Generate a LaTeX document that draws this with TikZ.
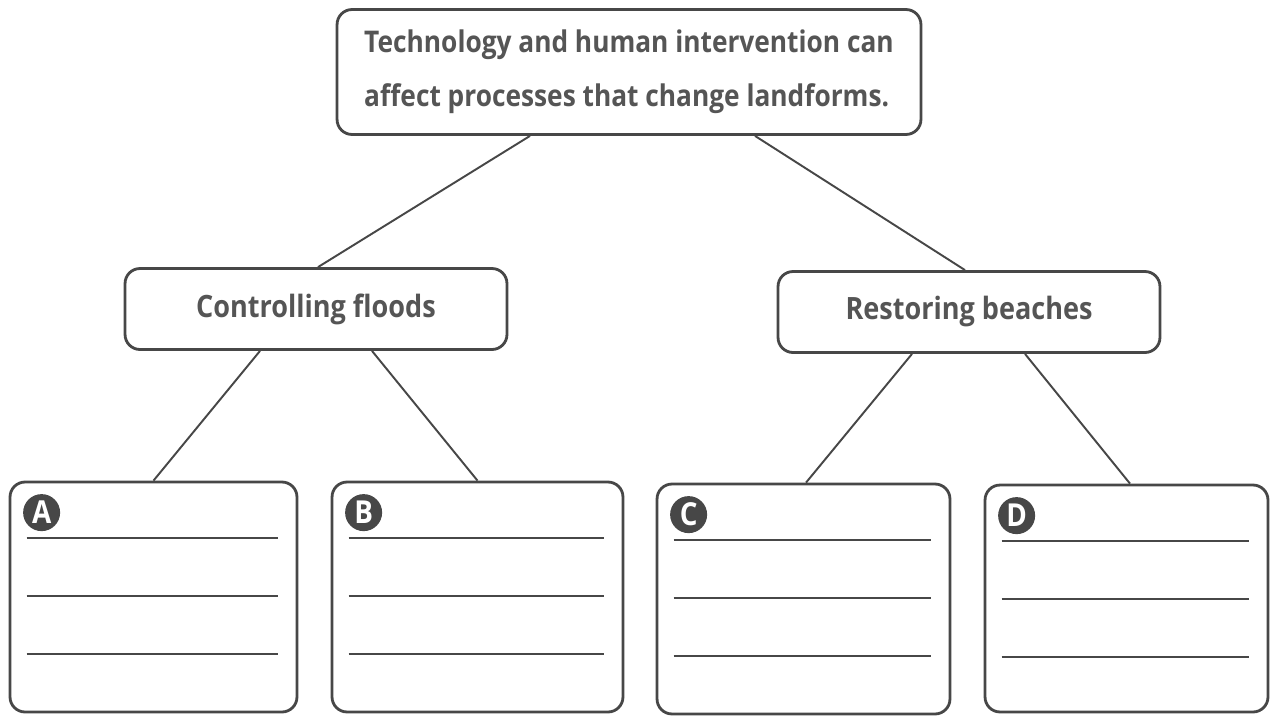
\documentclass[tikz,border=0pt]{standalone}
\usepackage{fontspec}
\setmainfont{Open Sans}[FakeStretch=0.88]
\usetikzlibrary{calc, positioning}
\definecolor{inkgray}{HTML}{474747}
\definecolor{textgray}{HTML}{555555}

\begin{document}
\begin{tikzpicture}[
    x=0.02cm, y=-0.02cm,
    box/.style={draw=inkgray, line width=1.6pt, rounded corners=0.3cm, fill=white, text=textgray},
    topbox/.style={box, minimum width=11.68cm, minimum height=2.5cm, align=left, font=\bfseries\fontsize{17}{31}\selectfont},
    midbox/.style={box, minimum width=7.64cm, minimum height=1.62cm, font=\bfseries\fontsize{17.5}{20}\selectfont},
    answerbox/.style={box, minimum height=4.6cm},
    badge/.style={circle, fill=inkgray, text=white, inner sep=0pt, minimum size=0.74cm, font=\bfseries\fontsize{18}{18}\selectfont},
    link/.style={draw=inkgray, line width=1.1pt},
    writeline/.style={draw=inkgray, line width=1.1pt}
]
\useasboundingbox (0,0) rectangle (1270,717);

% Nodes
\node[topbox] (goal) at (629,72) {Technology and human intervention can\\affect processes that change landforms.};
\node[midbox] (floods) at (316,309) {Controlling floods};
\node[midbox] (beaches) at (969,312) {Restoring beaches};

\node[answerbox, minimum width=5.74cm] (A) at (153.5,597) {};
\node[answerbox, minimum width=5.82cm] (B) at (477.5,597) {};
\node[answerbox, minimum width=5.86cm] (C) at (803.5,599) {};
\node[answerbox, minimum width=5.66cm, minimum height=4.54cm] (D) at (1126.5,598.5) {};

% Letters and writing lines
\foreach \b in {A,B,C,D} {
    \node[badge] (mark\b) at ([shift={(0.66cm,-0.64cm)}]\b.north west) {\b};
    \foreach \d in {57,115,173}
        \draw[writeline] ($(\b.north west)+(0.36cm,-\d*0.02cm)$) -- ($(\b.north east)+(-0.4cm,-\d*0.02cm)$);
}

% Connectors
\draw[link] ([xshift=-1.98cm]goal.south) -- ([xshift=0.04cm]floods.north);
\draw[link] ([xshift=2.52cm]goal.south) -- ([xshift=-0.08cm]beaches.north);
\draw[link] ([xshift=-1.12cm]floods.south) -- (A.north);
\draw[link] ([xshift=1.12cm]floods.south) -- (B.north);
\draw[link] ([xshift=-1.14cm]beaches.south) -- ([xshift=0.05cm]C.north);
\draw[link] ([xshift=1.12cm]beaches.south) -- ([xshift=0.07cm]D.north);

\end{tikzpicture}
\end{document}
